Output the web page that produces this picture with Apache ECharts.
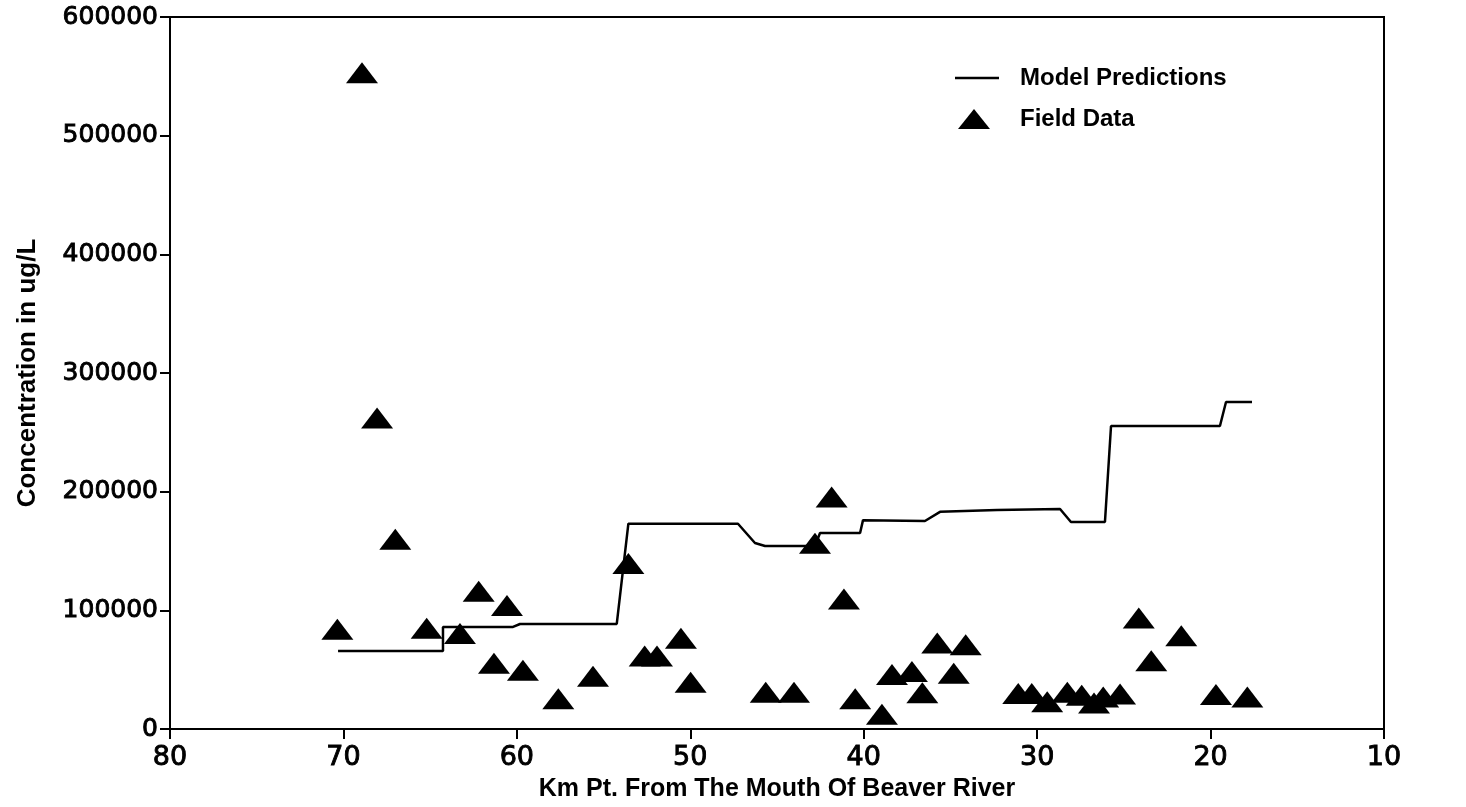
<!DOCTYPE html>
<html>
<head>
<meta charset="utf-8">
<script src="https://cdn.jsdelivr.net/npm/echarts@6/dist/echarts.min.js"></script>
<style>
html,body{margin:0;padding:0;background:#ffffff;}
#chart{width:1466px;height:807px;}
</style>
</head>
<body>
<div id="chart"></div>
<script>
// Field data (km point, concentration ug/L)
const fieldKm = [68.93, 68.06, 67.01, 70.35, 65.2, 63.28, 62.2, 60.57, 61.32, 59.65, 57.61, 55.61, 53.57, 52.63, 51.92, 50.54, 49.98, 45.65, 44.02, 41.85, 42.81, 41.14, 40.49, 38.95, 38.37, 37.22, 36.62, 35.76, 34.81, 34.12, 31.09, 30.31, 29.42, 28.26, 27.43, 26.72, 26.19, 25.22, 24.14, 23.42, 21.69, 19.69, 17.88];
const fieldConc = [553000, 262000, 160000, 84000, 85000, 80500, 116000, 104000, 55500, 49500, 25500, 44500, 139500, 61500, 61500, 76500, 39500, 31000, 31000, 195500, 156500, 109500, 25500, 12500, 46000, 48500, 30500, 72500, 47000, 71000, 30000, 30000, 23000, 31000, 28500, 22000, 27000, 29500, 93500, 57500, 78500, 29000, 27000];

// Model predictions (step-like profile)
const modelKm = [70.31, 64.26, 64.26, 60.22, 59.82, 54.24, 53.57, 47.25, 46.27, 45.69, 42.81, 42.52, 40.21, 40.04, 36.47, 35.6, 32.31, 28.68, 28.05, 26.09, 25.74, 19.46, 19.11, 17.61];
const modelConc = [65700, 65700, 86000, 86000, 88500, 88500, 173000, 173000, 156700, 154200, 154200, 165200, 165200, 176000, 175300, 183000, 184600, 185400, 174400, 174400, 255300, 255300, 275600, 275600];

const xTitle = 'Km Pt. From The Mouth Of Beaver River';
const yTitle = 'Concentration in ug/L';
const seriesNames = ['Model Predictions', 'Field Data'];

const fieldData = fieldKm.map((k, i) => [k, fieldConc[i]]);
const modelData = modelKm.map((k, i) => [k, modelConc[i]]);

const sansBold = {fontFamily: 'Liberation Sans, Arial, sans-serif', fontWeight: 'bold', color: '#000'};
const tickFont = {fontFamily: 'DejaVu Sans, sans-serif', fontWeight: 'normal', color: '#000',
  textBorderColor: '#000', textBorderWidth: 0.9};

const chart = echarts.init(document.getElementById('chart'), null, {renderer: 'canvas'});
chart.setOption({
  backgroundColor: '#ffffff',
  animation: false,
  grid: {
    left: 170, right: 82, top: 17, bottom: 78,
    show: true, borderColor: '#000', borderWidth: 2, backgroundColor: 'transparent'
  },
  legend: [
    {
      data: [{name: seriesNames[0], icon: 'rect'}],
      left: 955, top: 66, padding: 0,
      itemWidth: 44, itemHeight: 2.5,
      symbolKeepAspect: false,
      itemStyle: {color: '#000'},
      textStyle: Object.assign({fontSize: 24, padding: [0, 0, 0, 16]}, sansBold),
      selectedMode: false
    },
    {
      data: [{name: seriesNames[1], icon: 'triangle'}],
      left: 958, top: 107, padding: 0,
      itemWidth: 32, itemHeight: 20,
      symbolKeepAspect: false,
      itemStyle: {color: '#000'},
      textStyle: Object.assign({fontSize: 24, padding: [0, 0, 0, 25]}, sansBold),
      selectedMode: false
    }
  ],
  xAxis: {
    type: 'value',
    inverse: true,
    min: 10, max: 80, interval: 10,
    name: xTitle,
    nameLocation: 'middle',
    nameGap: 42,
    nameTextStyle: Object.assign({fontSize: 25}, sansBold),
    axisLine: {show: true, lineStyle: {color: '#000', width: 2}},
    axisTick: {show: true, length: 10, lineStyle: {color: '#000', width: 2}},
    axisLabel: Object.assign({fontSize: 27, margin: 15}, tickFont),
    splitLine: {show: false}
  },
  yAxis: {
    type: 'value',
    min: 0, max: 600000, interval: 100000,
    name: yTitle,
    nameLocation: 'middle',
    nameGap: 129,
    nameTextStyle: Object.assign({fontSize: 26}, sansBold),
    axisLine: {show: true, lineStyle: {color: '#000', width: 2}},
    axisTick: {show: true, length: 10, lineStyle: {color: '#000', width: 2}},
    axisLabel: Object.assign({fontSize: 25, margin: 12, formatter: v => String(v)}, tickFont),
    splitLine: {show: false}
  },
  series: [
    {
      name: seriesNames[0],
      type: 'line',
      data: modelData,
      symbol: 'none',
      lineStyle: {color: '#000', width: 2.5},
      itemStyle: {color: '#000'},
      z: 2
    },
    {
      name: seriesNames[1],
      type: 'scatter',
      data: fieldData,
      symbol: 'triangle',
      symbolSize: [32, 21],
      itemStyle: {color: '#000', opacity: 1},
      z: 3
    }
  ]
});
</script>
</body>
</html>
